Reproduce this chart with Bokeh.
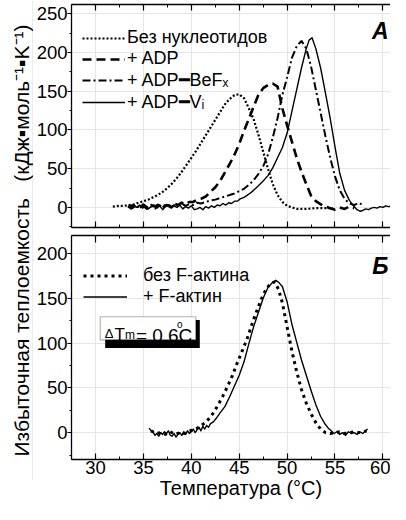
from bokeh.plotting import figure
from bokeh.models import (Range1d, LinearAxis, SingleIntervalTicker, FixedTicker, Label, Legend,
                          LegendItem, BoxAnnotation, CustomLabelingPolicy)
from bokeh.layouts import row, column
from bokeh.embed import file_html
from bokeh.resources import INLINE

# ---------------- data ----------------
T_A_none = [31.8, 32.5, 33.0, 33.5, 34.0, 34.5, 35.0, 35.5, 36.0, 36.5, 37.0, 37.5, 38.0, 38.5,
            39.0, 39.5, 40.0, 40.5, 41.0, 41.5, 42.0, 42.5, 43.0, 43.5, 44.0, 44.5, 45.0, 45.5,
            46.0, 46.5, 47.0, 47.5, 48.0, 48.5, 49.0, 49.5, 50.0, 50.5, 51.0, 52.0, 53.0, 54.0, 54.8]
Cp_A_none = [1, 2, 2, 3, 4, 6, 8, 10, 13, 16, 20, 25, 31, 38, 46, 55, 64, 73, 83, 93, 103, 113,
             123, 133, 140, 145, 146, 141, 128, 114, 94, 72, 50, 30, 16, 7, 2, 0, -2, -2, -1, -1, -1]

T_A_adp = [33.4, 33.8, 34.2, 34.6, 35.0, 35.4, 35.8, 36.2, 36.6, 37.0, 37.4, 37.8, 38.2, 38.6,
           39.0, 39.4, 39.8, 40.2, 40.6, 41.0, 41.5, 42.0, 42.5, 43.0, 43.5, 44.0, 44.5, 45.0,
           45.5, 46.0, 46.5, 47.0, 47.5, 48.0, 48.5, 49.0, 49.5, 50.0, 50.5, 51.0, 51.5, 52.0,
           52.5, 53.0, 53.5, 54.0, 54.5, 55.0, 55.5, 56.0, 56.5, 57.0]
Cp_A_adp = [2, -1, 3, 0, 2, -2, 3, 1, 4, 0, 3, 2, 5, 3, 6, 4, 7, 7, 10, 11,
            14, 20, 26, 34, 45, 56, 68, 82, 99, 114, 130, 145, 154, 158, 160, 156, 128, 106,
            85, 64, 46, 30, 15, 8, 4, 1, -1, -3, 0, -2, 1, -1]

T_A_bef = [33.4, 33.8, 34.2, 34.6, 35.0, 35.4, 35.8, 36.2, 36.6, 37.0, 37.4, 37.8, 38.2, 38.6,
           39.0, 39.4, 39.8, 40.2, 40.6, 41.0, 41.5, 42.0, 42.5, 43.0, 43.5, 44.0, 44.5, 45.0,
           45.5, 46.0, 46.5, 47.0, 47.5, 48.0, 48.5, 49.0, 49.5, 50.0, 50.5, 51.0, 51.5, 52.0,
           52.5, 53.0, 53.5, 54.0, 54.5, 55.0, 55.5, 56.0, 56.5, 57.0, 57.5, 58.0]
Cp_A_bef = [0, 3, -1, 2, 4, 0, 2, -2, 3, 1, 4, 0, 3, 2, 5, 2, 4, 3, 6, 5,
            7, 9, 10, 12, 14, 16, 18, 21, 24, 29, 35, 43, 53, 68, 90, 115, 145, 168, 193, 208,
            215, 205, 182, 152, 122, 92, 64, 40, 22, 11, 5, 3, 6, 2]

T_A_vi = [33.4, 33.7, 34.0, 34.3, 34.6, 34.9, 35.2, 35.5, 35.8, 36.1, 36.4, 36.7, 37.0, 37.3,
          37.6, 37.9, 38.2, 38.5, 38.8, 39.1, 39.4, 39.7, 40.0, 40.3, 40.6, 40.9, 41.2, 41.5,
          41.8, 42.1, 42.4, 42.7, 43.0, 43.3, 43.6, 43.9, 44.2, 44.5, 44.8, 45.1, 45.5, 46.0,
          46.5, 47.0, 47.5, 48.0, 48.5, 49.0, 49.5, 50.0, 50.5, 51.0, 51.5, 52.0, 52.3, 52.6,
          53.0, 53.5, 54.0, 54.5, 55.0, 55.5, 56.0, 56.5, 57.0, 57.3, 57.6, 57.9, 58.2, 58.5,
          58.8, 59.1, 59.4, 59.7, 60.0, 60.3, 60.6, 60.9, 61.2]
Cp_A_vi = [1, -2, 2, 0, 3, -1, 2, -2, 1, 3, -1, 2, -3, 1, 3, -1, 2, 0, 3, -2, 1, -1, 2, -3, -2,
           0, -3, 1, -1, 2, 0, 3, 2, 5, 3, 6, 5, 8, 8, 11, 13, 17, 22, 28, 34, 41, 51, 64, 77,
           96, 124, 152, 180, 205, 216, 219, 205, 180, 148, 115, 78, 44, 22, 9, 1, -3, -5, -4,
           -2, -3, -1, 0, -1, 1, 0, 2, 1, 2, 1]

T_B_none = [35.8, 36.3, 36.8, 37.3, 37.8, 38.3, 38.8, 39.3, 39.8, 40.3, 40.8, 41.3, 41.8, 42.3,
            42.8, 43.3, 43.8, 44.3, 44.8, 45.3, 45.8, 46.3, 46.8, 47.3, 47.8, 48.3, 48.7, 49.1,
            49.5, 50.0, 50.5, 51.0, 51.5, 52.0, 52.5, 53.0, 53.5, 54.0, 54.5, 55.0, 55.5, 56.0,
            56.5, 57.0, 57.5, 58.0, 58.3]
Cp_B_none = [2, -1, 0, -2, 1, -2, 0, -1, 2, 3, 6, 10, 15, 22, 31, 41, 52, 64, 78, 91, 104, 120,
             135, 149, 160, 167, 168, 160, 145, 118, 91, 68, 48, 33, 21, 11, 4, 0, -1, 0, 1,
             -1, 0, 1, 0, 1, 2]

T_B_act = [35.6, 35.8, 36.0, 36.2, 36.4, 36.6, 36.8, 37.0, 37.2, 37.4, 37.6, 37.8, 38.0, 38.2,
           38.4, 38.6, 38.8, 39.0, 39.2, 39.4, 39.6, 39.8, 40.0, 40.2, 40.4, 40.6, 40.8, 41.0,
           41.2, 41.4, 41.6, 41.8, 42.0, 42.3, 42.6, 43.0, 43.5, 44.0, 44.5, 45.0, 45.5, 46.0,
           46.5, 47.0, 47.5, 48.0, 48.5, 48.8, 49.1, 49.5, 50.0, 50.5, 51.0, 51.5, 52.0, 52.5,
           53.0, 53.5, 54.0, 54.3, 54.6, 54.9, 55.2, 55.5, 55.8, 56.1, 56.4, 56.7, 57.0, 57.3,
           57.6, 57.9, 58.2, 58.4]
Cp_B_act = [5, 2, 1, -3, -1, -4, 0, -2, 1, -1, 2, -3, -4, -1, -5, -2, 0, -3, 1, -2, 2, -1, 1,
            4, 0, 3, 6, 2, 7, 4, 8, 6, 10, 12, 16, 22, 29, 40, 52, 64, 79, 99, 118, 134, 150,
            162, 168, 170, 168, 163, 146, 121, 101, 81, 64, 47, 31, 18, 9, 5, 2, -1, 1, -2, 0,
            -3, 1, -1, 0, -2, 1, -1, 2, 4]

LEG_A = ["Без нуклеотидов", "+ ADP", "+ ADP\u2501BeF\u2093", "+ ADP\u2501V\u1d62"]
LEG_B = ["без F-актина", "+ F-актин"]
Y_TITLE = "Избыточная теплоемкость \u2002(кДж\u25aaмоль\u207b\u00b9\u25aaK\u207b\u00b9)"
X_TITLE = "\u2002\u2002Температура (\u00b0C)"
DTM_VALUE = "= 0,6"

FONT = "Liberation Sans"
TICK_SIZE = "18.5px"
PX_PER_C = 9.667
FRAME_L = 76
FRAME_W = 322
X0 = 30 - (100.3 - FRAME_L) / PX_PER_C
X1 = X0 + FRAME_W / PX_PER_C
YA = (-26, 262)
YB = (-30, 220)
FIG_W = 357


def xd(px):
    return X0 + (px - FRAME_L) / PX_PER_C


def yA_ref(py):
    return YA[1] - (py - 12) * (YA[1] - YA[0]) / 233


def yB_ref(py):
    return YB[1] - (py - 245) * (YB[1] - YB[0]) / 233


NO_LABELS = CustomLabelingPolicy(code="for (const i of indices) { indices.unset(i) } return indices")


def new_axis(ticker, t_in, t_out, m_in, m_out, size, standoff, hide=False, **kw):
    ax = LinearAxis(ticker=ticker,
                    axis_line_color="black", axis_line_width=1.3,
                    major_tick_line_color="black", major_tick_line_width=1.2,
                    minor_tick_line_color="black", minor_tick_line_width=1.0,
                    major_tick_in=t_in, major_tick_out=t_out,
                    minor_tick_in=m_in, minor_tick_out=m_out,
                    major_label_text_font=FONT, major_label_text_font_size=size,
                    major_label_text_color="black", major_label_text_font_style="normal",
                    major_label_standoff=standoff, **kw)
    if hide:
        ax.major_label_policy = NO_LABELS
    return ax


def make_fig(height, yr, top_b, bot_b):
    p = figure(width=FIG_W, height=height, x_range=Range1d(X0, X1), y_range=Range1d(*yr),
               x_axis_location=None, y_axis_location=None, output_backend="svg",
               toolbar_location=None, min_border_left=35, min_border_right=0,
               min_border_top=top_b, min_border_bottom=bot_b)
    p.outline_line_color = None
    p.background_fill_color = "white"
    p.border_fill_color = "white"
    yax = new_axis(SingleIntervalTicker(interval=50, num_minor_ticks=2), 0, 4, 0, 2,
                   TICK_SIZE, 0)
    p.add_layout(yax, "left")
    return p


def x_ticker():
    return SingleIntervalTicker(interval=5, num_minor_ticks=2)


# ---------------- panel A ----------------
pA = make_fig(231, YA, 2, 0)
pA.add_layout(new_axis(x_ticker(), 6, 0, 3, 0, "1px", 0, hide=True), "above")
pA.add_layout(new_axis(x_ticker(), 6, 0, 3, 0, "1px", 0, hide=True), "below")

rA0 = pA.line(T_A_none, Cp_A_none, line_color="black", line_width=2.2, line_dash="2 2")
rA1 = pA.line(T_A_adp, Cp_A_adp, line_color="black", line_width=2.6, line_dash="9 5")
rA2 = pA.line(T_A_bef, Cp_A_bef, line_color="black", line_width=2.0, line_dash="8 3 2 3")
rA3 = pA.line(T_A_vi, Cp_A_vi, line_color="black", line_width=1.4, line_join="round")

legA = Legend(items=[LegendItem(label=LEG_A[i], renderers=[r]) for i, r in
                     enumerate([rA0, rA1, rA2, rA3])],
              location=(11, 114), padding=0, spacing=0, margin=0,
              glyph_width=43, glyph_height=20, label_height=20, label_standoff=2,
              label_text_font=FONT, label_text_font_size="18px", label_text_color="black",
              border_line_color=None, background_fill_alpha=0)
pA.add_layout(legA)
pA.add_layout(Label(x=xd(396), y=yA_ref(39.3), text="A", text_font=FONT,
                    text_font_style="bold italic", text_font_size="23px",
                    text_align="right", text_baseline="alphabetic", text_color="black"))

# ---------------- panel B ----------------
pB = make_fig(273, YB, 0, 45)
pB.add_layout(new_axis(x_ticker(), 7, 0, 3, 0, "1px", 0, hide=True), "above")
axB_bot = new_axis(x_ticker(), 6, 0, 3, 0, TICK_SIZE, 1, axis_label=X_TITLE,
                   axis_label_text_font=FONT, axis_label_text_font_size="20px",
                   axis_label_text_font_style="normal", axis_label_text_color="black",
                   axis_label_standoff=0)
pB.add_layout(axB_bot, "below")

rB0 = pB.line(T_B_none, Cp_B_none, line_color="black", line_width=3, line_dash="3 4")
rB1 = pB.line(T_B_act, Cp_B_act, line_color="black", line_width=1.4, line_join="round")

legB = Legend(items=[LegendItem(label=LEG_B[0], renderers=[rB0]),
                     LegendItem(label=LEG_B[1], renderers=[rB1])],
              location=(12, 152), padding=0, spacing=0, margin=0,
              glyph_width=44, glyph_height=21, label_height=21, label_standoff=16,
              label_text_font=FONT, label_text_font_size="18px", label_text_color="black",
              border_line_color=None, background_fill_alpha=0)
pB.add_layout(legB)
pB.add_layout(Label(x=xd(396), y=yB_ref(276.7), text="Б", text_font=FONT,
                    text_font_style="bold italic", text_font_size="23px",
                    text_align="right", text_baseline="alphabetic", text_color="black"))

# delta Tm box with shadow
pB.add_layout(BoxAnnotation(left=xd(110), right=xd(205.5), top=yB_ref(333),
                            bottom=yB_ref(362), fill_color="black", fill_alpha=1,
                            line_color=None))
pB.add_layout(BoxAnnotation(left=xd(105), right=xd(201.5), top=yB_ref(329.5),
                            bottom=yB_ref(353.5), fill_color="white", fill_alpha=1,
                            line_color="black", line_width=1.2))
for txt, px, py, fs in [("\u0394", 109.5, 347, "13px"), ("T", 119.5, 348, "17px"),
                        ("m", 130, 348, "12px"), (DTM_VALUE, 141, 349, "19px"),
                        ("o", 182.5, 338, "10px"), ("C", 184, 349, "19px")]:
    pB.add_layout(Label(x=xd(px), y=yB_ref(py), text=txt, text_font=FONT,
                        text_font_size=fs, text_align="left", text_baseline="alphabetic",
                        text_color="black"))

# ---------------- y title (axis label of a thin side figure) ----------------
pL = figure(width=33, height=504, x_range=Range1d(0, 1), y_range=Range1d(0, 1),
            x_axis_location=None, y_axis_location=None, output_backend="svg",
            toolbar_location=None, min_border_left=32, min_border_right=0,
            min_border_top=0, min_border_bottom=24)
pL.outline_line_color = None
yt = LinearAxis(ticker=FixedTicker(ticks=[]), axis_label=Y_TITLE,
                axis_line_color=None, major_tick_line_color=None, minor_tick_line_color=None,
                major_tick_out=0, minor_tick_out=0, major_label_standoff=0,
                axis_label_standoff=0, axis_label_text_font=FONT,
                axis_label_text_font_size="21px", axis_label_text_font_style="normal",
                axis_label_text_color="black")
pL.add_layout(yt, "left")

layout = row(pL, column(pA, pB))
open("out.html", "w").write(file_html(layout, INLINE))
